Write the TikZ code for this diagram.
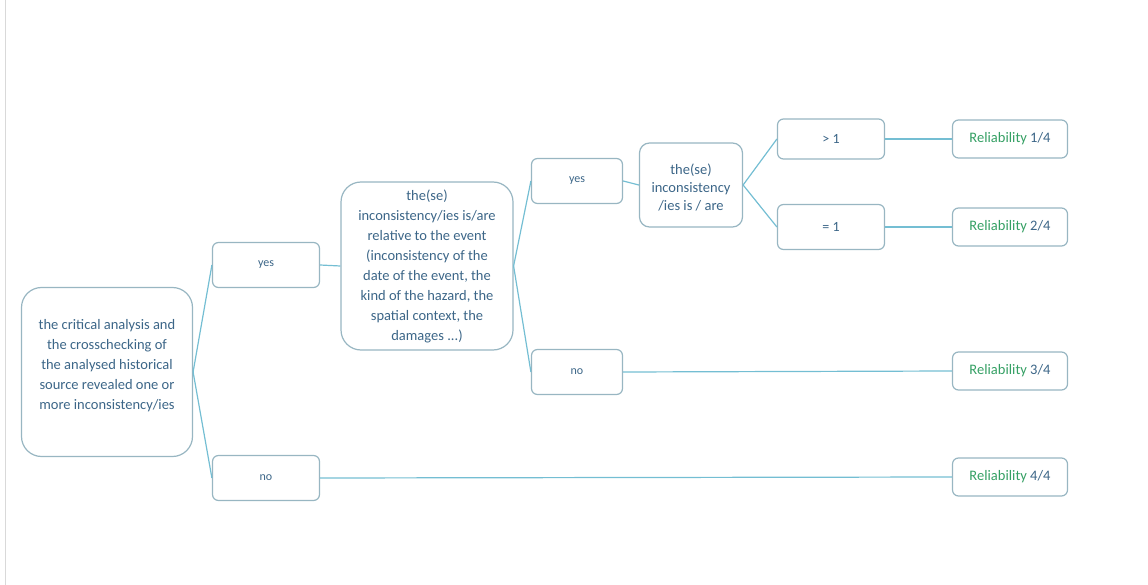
\documentclass[tikz,border=0pt]{standalone}
\usepackage{fontspec}
\setmainfont{Carlito}
\usetikzlibrary{positioning}

\definecolor{boxline}{HTML}{98B6C2}
\definecolor{linkline}{HTML}{74BED3}
\definecolor{boxtext}{HTML}{3C6688}
\definecolor{reltext}{HTML}{35A064}

\tikzset{
  box/.style={draw=boxline, line width=1.2pt, rounded corners=6pt, fill=white,
    text=boxtext, align=center, inner sep=2pt,
    font=\fontsize{14.5}{20}\selectfont},
  bigbox/.style={box, rounded corners=20pt},
  choice/.style={box, minimum width=107pt, minimum height=45pt,
    font=\fontsize{12}{14}\selectfont},
  relbox/.style={box, minimum width=115pt, minimum height=38pt},
  link/.style={draw=linkline, line width=1.2pt},
}
\newcommand{\rel}[1]{\textcolor{reltext}{Reliability} #1}

\begin{document}
\begin{tikzpicture}[x=1pt, y=-1pt]
    \useasboundingbox (0,0) rectangle (1148,585);
    \draw[black!15] (5,0) -- (5,585);

    % first question
    \node[bigbox, minimum width=171pt, minimum height=169pt] (question) at (107,372)
        {the critical analysis and\\ the crosschecking of\\ the analysed historical\\
         source revealed one or\\ more inconsistency/ies\\[-4pt]};
    \node[choice] (yesA) at (266,265) {yes};
    \node[choice] (noA) at (266,478) {no};

    % second question
    \node[bigbox, minimum width=172pt, minimum height=168pt] (event) at (427,266)
        {the(se)\\ inconsistency/ies is/are\\ relative to the event\\
         (inconsistency of the\\ date of the event, the\\ kind of the hazard, the\\
         spatial context, the\\ damages ...)};
    \node[choice, minimum width=91pt] (yesB) at (577,181) {yes};
    \node[choice, minimum width=91pt] (noB) at (577,372) {no};

    % third question
    \node[box, rounded corners=10pt, minimum width=103pt, minimum height=84pt,
          font=\fontsize{14.5}{18}\selectfont] (count) at (691,185)
        {\\[-2pt] the(se)\\ inconsistency\\ /ies is / are};
    \node[choice, minimum height=40pt, font=\fontsize{14}{16}\selectfont] (more) at (831,139) {> 1};
    \node[choice, minimum height=45pt, font=\fontsize{14}{16}\selectfont] (one) at (831,227) {= 1};

    % results
    \node[relbox] (relA) at (1010,139) {\rel{1/4}};
    \node[relbox] (relB) at (1010,227) {\rel{2/4}};
    \node[relbox] (relC) at (1010,371) {\rel{3/4}};
    \node[relbox] (relD) at (1010,477) {\rel{4/4}};

    \draw[link] (question.east) -- (yesA.west);
    \draw[link] (question.east) -- (noA.west);
    \draw[link] (yesA.east) -- (event.west);
    \draw[link] (noA.east) -- (relD.west);
    \draw[link] (event.east) -- (yesB.west);
    \draw[link] (event.east) -- (noB.west);
    \draw[link] (noB.east) -- (relC.west);
    \draw[link] (yesB.east) -- (count.west);
    \draw[link] (count.east) -- (more.west);
    \draw[link] (count.east) -- (one.west);
    \draw[link] (more.east) -- (relA.west);
    \draw[link] (one.east) -- (relB.west);
\end{tikzpicture}
\end{document}
